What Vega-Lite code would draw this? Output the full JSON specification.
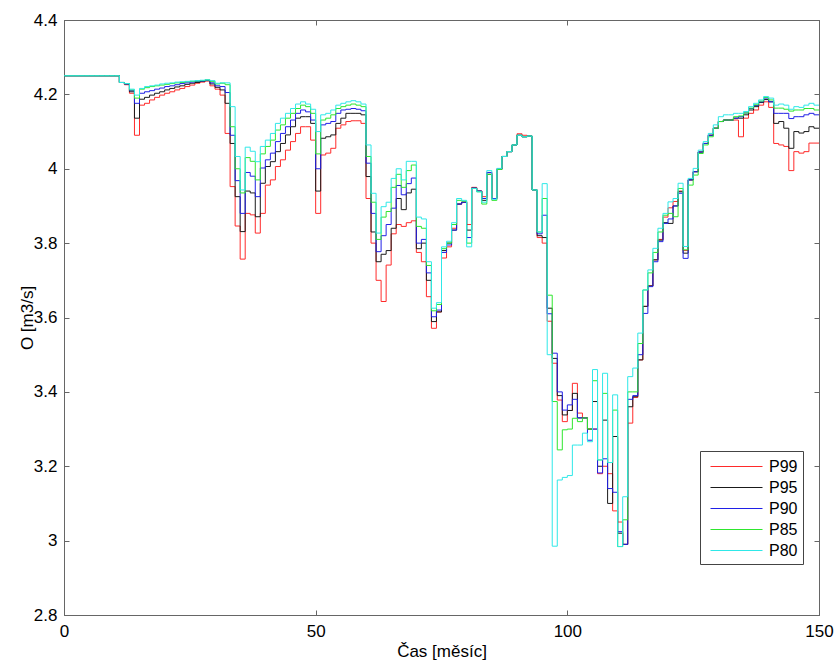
{
"$schema": "https://vega.github.io/schema/vega-lite/v6.json",
"width": 755, "height": 595,
"autosize": {"type": "none"},
"padding": {"left": 64, "top": 20, "right": 18, "bottom": 48},
"background": "white",
"config": {"view": {"stroke": "#666", "strokeWidth": 1}, "font": "Liberation Sans"},
"data": {"values": [
{"m":0,"P99":4.25,"P95":4.25,"P90":4.25,"P85":4.25,"P80":4.25},
{"m":1,"P99":4.25,"P95":4.25,"P90":4.25,"P85":4.25,"P80":4.25},
{"m":2,"P99":4.25,"P95":4.25,"P90":4.25,"P85":4.25,"P80":4.25},
{"m":3,"P99":4.25,"P95":4.25,"P90":4.25,"P85":4.25,"P80":4.25},
{"m":4,"P99":4.25,"P95":4.25,"P90":4.25,"P85":4.25,"P80":4.25},
{"m":5,"P99":4.25,"P95":4.25,"P90":4.25,"P85":4.25,"P80":4.25},
{"m":6,"P99":4.25,"P95":4.25,"P90":4.25,"P85":4.25,"P80":4.25},
{"m":7,"P99":4.25,"P95":4.25,"P90":4.25,"P85":4.25,"P80":4.25},
{"m":8,"P99":4.25,"P95":4.25,"P90":4.25,"P85":4.25,"P80":4.25},
{"m":9,"P99":4.25,"P95":4.25,"P90":4.25,"P85":4.25,"P80":4.25},
{"m":10,"P99":4.25,"P95":4.25,"P90":4.25,"P85":4.25,"P80":4.25},
{"m":11,"P99":4.232,"P95":4.232,"P90":4.232,"P85":4.232,"P80":4.232},
{"m":12,"P99":4.226,"P95":4.228,"P90":4.228,"P85":4.229,"P80":4.229},
{"m":13,"P99":4.203,"P95":4.207,"P90":4.21,"P85":4.212,"P80":4.214},
{"m":14,"P99":4.09,"P95":4.136,"P90":4.176,"P85":4.19,"P80":4.198},
{"m":15,"P99":4.171,"P95":4.187,"P90":4.203,"P85":4.214,"P80":4.216},
{"m":16,"P99":4.176,"P95":4.192,"P90":4.207,"P85":4.218,"P80":4.221},
{"m":17,"P99":4.185,"P95":4.198,"P90":4.21,"P85":4.221,"P80":4.223},
{"m":18,"P99":4.192,"P95":4.203,"P90":4.214,"P85":4.223,"P80":4.225},
{"m":19,"P99":4.198,"P95":4.207,"P90":4.217,"P85":4.225,"P80":4.228},
{"m":20,"P99":4.203,"P95":4.212,"P90":4.221,"P85":4.227,"P80":4.23},
{"m":21,"P99":4.207,"P95":4.216,"P90":4.223,"P85":4.229,"P80":4.231},
{"m":22,"P99":4.212,"P95":4.22,"P90":4.226,"P85":4.231,"P80":4.233},
{"m":23,"P99":4.216,"P95":4.223,"P90":4.229,"P85":4.232,"P80":4.234},
{"m":24,"P99":4.221,"P95":4.227,"P90":4.231,"P85":4.234,"P80":4.235},
{"m":25,"P99":4.225,"P95":4.23,"P90":4.233,"P85":4.235,"P80":4.236},
{"m":26,"P99":4.23,"P95":4.232,"P90":4.235,"P85":4.236,"P80":4.237},
{"m":27,"P99":4.233,"P95":4.235,"P90":4.236,"P85":4.237,"P80":4.238},
{"m":28,"P99":4.236,"P95":4.237,"P90":4.238,"P85":4.239,"P80":4.239},
{"m":29,"P99":4.223,"P95":4.228,"P90":4.231,"P85":4.235,"P80":4.237},
{"m":30,"P99":4.214,"P95":4.219,"P90":4.223,"P85":4.228,"P80":4.23},
{"m":31,"P99":4.198,"P95":4.212,"P90":4.221,"P85":4.23,"P80":4.231},
{"m":32,"P99":4.095,"P95":4.176,"P90":4.205,"P85":4.226,"P80":4.231},
{"m":33,"P99":3.952,"P95":4.068,"P90":4.09,"P85":4.113,"P80":4.167},
{"m":34,"P99":3.846,"P95":3.925,"P90":3.968,"P85":4.0,"P80":4.033},
{"m":35,"P99":3.757,"P95":3.831,"P90":3.88,"P85":3.935,"P80":3.943},
{"m":36,"P99":3.88,"P95":3.94,"P90":3.99,"P85":4.03,"P80":4.058},
{"m":37,"P99":3.876,"P95":3.935,"P90":3.98,"P85":4.02,"P80":4.047},
{"m":38,"P99":3.827,"P95":3.871,"P90":3.925,"P85":3.97,"P80":4.019},
{"m":39,"P99":3.88,"P95":3.961,"P90":4.002,"P85":4.04,"P80":4.06},
{"m":40,"P99":3.956,"P95":4.006,"P90":4.024,"P85":4.06,"P80":4.077},
{"m":41,"P99":3.97,"P95":4.019,"P90":4.042,"P85":4.077,"P80":4.095},
{"m":42,"P99":4.006,"P95":4.046,"P90":4.073,"P85":4.104,"P80":4.122},
{"m":43,"P99":4.024,"P95":4.068,"P90":4.095,"P85":4.118,"P80":4.136},
{"m":44,"P99":4.05,"P95":4.091,"P90":4.113,"P85":4.136,"P80":4.149},
{"m":45,"P99":4.073,"P95":4.113,"P90":4.131,"P85":4.149,"P80":4.162},
{"m":46,"P99":4.095,"P95":4.136,"P90":4.149,"P85":4.162,"P80":4.174},
{"m":47,"P99":4.113,"P95":4.14,"P90":4.158,"P85":4.171,"P80":4.18},
{"m":48,"P99":4.113,"P95":4.14,"P90":4.153,"P85":4.167,"P80":4.174},
{"m":49,"P99":4.077,"P95":4.122,"P90":4.131,"P85":4.149,"P80":4.16},
{"m":50,"P99":3.88,"P95":3.94,"P90":4.0,"P85":4.04,"P80":4.1},
{"m":51,"P99":4.037,"P95":4.082,"P90":4.118,"P85":4.131,"P80":4.145},
{"m":52,"P99":4.042,"P95":4.086,"P90":4.122,"P85":4.136,"P80":4.149},
{"m":53,"P99":4.055,"P95":4.091,"P90":4.127,"P85":4.145,"P80":4.158},
{"m":54,"P99":4.109,"P95":4.122,"P90":4.149,"P85":4.162,"P80":4.171},
{"m":55,"P99":4.118,"P95":4.136,"P90":4.158,"P85":4.167,"P80":4.176},
{"m":56,"P99":4.127,"P95":4.149,"P90":4.16,"P85":4.171,"P80":4.18},
{"m":57,"P99":4.129,"P95":4.149,"P90":4.162,"P85":4.174,"P80":4.183},
{"m":58,"P99":4.129,"P95":4.149,"P90":4.16,"P85":4.171,"P80":4.18},
{"m":59,"P99":4.122,"P95":4.145,"P90":4.156,"P85":4.167,"P80":4.174},
{"m":60,"P99":3.92,"P95":3.979,"P90":4.015,"P85":4.033,"P80":4.064},
{"m":61,"P99":3.8,"P95":3.83,"P90":3.88,"P85":3.91,"P80":3.934},
{"m":62,"P99":3.7,"P95":3.75,"P90":3.777,"P85":3.81,"P80":3.827},
{"m":63,"P99":3.643,"P95":3.77,"P90":3.82,"P85":3.87,"P80":3.898},
{"m":64,"P99":3.741,"P95":3.78,"P90":3.85,"P85":3.885,"P80":3.91},
{"m":65,"P99":3.825,"P95":3.84,"P90":3.894,"P85":3.95,"P80":3.974},
{"m":66,"P99":3.85,"P95":3.92,"P90":3.955,"P85":3.985,"P80":4.0},
{"m":67,"P99":3.845,"P95":3.89,"P90":3.93,"P85":3.95,"P80":3.97},
{"m":68,"P99":3.855,"P95":3.935,"P90":3.96,"P85":3.995,"P80":4.02},
{"m":69,"P99":3.86,"P95":3.945,"P90":3.975,"P85":4.01,"P80":4.02},
{"m":70,"P99":3.775,"P95":3.785,"P90":3.8,"P85":3.845,"P80":3.87},
{"m":71,"P99":3.75,"P95":3.8,"P90":3.81,"P85":3.84,"P80":3.865},
{"m":72,"P99":3.656,"P95":3.7,"P90":3.72,"P85":3.74,"P80":3.75},
{"m":73,"P99":3.571,"P95":3.589,"P90":3.602,"P85":3.618,"P80":3.625},
{"m":74,"P99":3.615,"P95":3.615,"P90":3.62,"P85":3.635,"P80":3.64},
{"m":75,"P99":3.76,"P95":3.78,"P90":3.775,"P85":3.785,"P80":3.79},
{"m":76,"P99":3.79,"P95":3.8,"P90":3.795,"P85":3.8,"P80":3.805},
{"m":77,"P99":3.84,"P95":3.835,"P90":3.835,"P85":3.85,"P80":3.855},
{"m":78,"P99":3.905,"P95":3.905,"P90":3.905,"P85":3.915,"P80":3.92},
{"m":79,"P99":3.91,"P95":3.91,"P90":3.91,"P85":3.913,"P80":3.915},
{"m":80,"P99":3.85,"P95":3.835,"P90":3.815,"P85":3.8,"P80":3.79},
{"m":81,"P99":3.95,"P95":3.948,"P90":3.948,"P85":3.947,"P80":3.947},
{"m":82,"P99":3.94,"P95":3.94,"P90":3.94,"P85":3.938,"P80":3.938},
{"m":83,"P99":3.925,"P95":3.915,"P90":3.92,"P85":3.905,"P80":3.91},
{"m":84,"P99":3.99,"P95":3.985,"P90":3.99,"P85":3.985,"P80":3.995},
{"m":85,"P99":3.92,"P95":3.92,"P90":3.92,"P85":3.915,"P80":3.918},
{"m":86,"P99":4.0,"P95":3.998,"P90":3.999,"P85":3.998,"P80":4.001},
{"m":87,"P99":4.033,"P95":4.033,"P90":4.033,"P85":4.033,"P80":4.033},
{"m":88,"P99":4.046,"P95":4.046,"P90":4.046,"P85":4.046,"P80":4.046},
{"m":89,"P99":4.064,"P95":4.064,"P90":4.064,"P85":4.064,"P80":4.064},
{"m":90,"P99":4.094,"P95":4.09,"P90":4.09,"P85":4.09,"P80":4.09},
{"m":91,"P99":4.09,"P95":4.086,"P90":4.086,"P85":4.086,"P80":4.086},
{"m":92,"P99":4.088,"P95":4.088,"P90":4.088,"P85":4.088,"P80":4.088},
{"m":93,"P99":3.943,"P95":3.943,"P90":3.943,"P85":3.943,"P80":3.943},
{"m":94,"P99":3.815,"P95":3.82,"P90":3.825,"P85":3.83,"P80":3.83},
{"m":95,"P99":3.8,"P95":3.815,"P90":3.875,"P85":3.92,"P80":3.96},
{"m":96,"P99":3.59,"P95":3.625,"P90":3.61,"P85":3.66,"P80":3.5},
{"m":97,"P99":3.477,"P95":3.49,"P90":3.504,"P85":3.374,"P80":2.985},
{"m":98,"P99":3.378,"P95":3.39,"P90":3.4,"P85":3.244,"P80":3.163},
{"m":99,"P99":3.32,"P95":3.338,"P90":3.351,"P85":3.298,"P80":3.17},
{"m":100,"P99":3.35,"P95":3.35,"P90":3.365,"P85":3.3,"P80":3.175},
{"m":101,"P99":3.423,"P95":3.396,"P90":3.38,"P85":3.329,"P80":3.257},
{"m":102,"P99":3.343,"P95":3.33,"P90":3.33,"P85":3.32,"P80":3.257},
{"m":103,"P99":3.33,"P95":3.33,"P90":3.33,"P85":3.33,"P80":3.289},
{"m":104,"P99":3.3,"P95":3.3,"P90":3.27,"P85":3.3,"P80":3.266},
{"m":105,"P99":3.3,"P95":3.374,"P90":3.3,"P85":3.43,"P80":3.46},
{"m":106,"P99":3.18,"P95":3.2,"P90":3.182,"P85":3.217,"P80":3.217},
{"m":107,"P99":3.2,"P95":3.324,"P90":3.22,"P85":3.396,"P80":3.45},
{"m":108,"P99":3.18,"P95":3.1,"P90":3.14,"P85":3.21,"P80":3.21},
{"m":109,"P99":3.08,"P95":3.28,"P90":3.13,"P85":3.351,"P80":3.392},
{"m":110,"P99":3.05,"P95":3.02,"P90":3.024,"P85":2.984,"P80":2.984},
{"m":111,"P99":2.99,"P95":2.99,"P90":2.99,"P85":3.056,"P80":3.118},
{"m":112,"P99":3.316,"P95":3.36,"P90":3.38,"P85":3.4,"P80":3.441},
{"m":113,"P99":3.385,"P95":3.387,"P90":3.39,"P85":3.4,"P80":3.464},
{"m":114,"P99":3.486,"P95":3.486,"P90":3.5,"P85":3.53,"P80":3.558},
{"m":115,"P99":3.63,"P95":3.63,"P90":3.611,"P85":3.674,"P80":3.674},
{"m":116,"P99":3.685,"P95":3.685,"P90":3.683,"P85":3.72,"P80":3.728},
{"m":117,"P99":3.755,"P95":3.755,"P90":3.75,"P85":3.775,"P80":3.786},
{"m":118,"P99":3.81,"P95":3.808,"P90":3.804,"P85":3.83,"P80":3.84},
{"m":119,"P99":3.87,"P95":3.855,"P90":3.853,"P85":3.875,"P80":3.88},
{"m":120,"P99":3.895,"P95":3.853,"P90":3.865,"P85":3.88,"P80":3.911},
{"m":121,"P99":3.912,"P95":3.9,"P90":3.9,"P85":3.871,"P80":3.92},
{"m":122,"P99":3.94,"P95":3.938,"P90":3.934,"P85":3.947,"P80":3.961},
{"m":123,"P99":3.78,"P95":3.773,"P90":3.759,"P85":3.782,"P80":3.791},
{"m":124,"P99":3.97,"P95":3.97,"P90":3.97,"P85":3.956,"P80":3.974},
{"m":125,"P99":3.992,"P95":3.992,"P90":3.992,"P85":3.983,"P80":4.001},
{"m":126,"P99":4.045,"P95":4.045,"P90":4.045,"P85":4.041,"P80":4.05},
{"m":127,"P99":4.068,"P95":4.068,"P90":4.068,"P85":4.064,"P80":4.073},
{"m":128,"P99":4.09,"P95":4.09,"P90":4.09,"P85":4.086,"P80":4.095},
{"m":129,"P99":4.109,"P95":4.109,"P90":4.109,"P85":4.109,"P80":4.118},
{"m":130,"P99":4.127,"P95":4.127,"P90":4.127,"P85":4.127,"P80":4.14},
{"m":131,"P99":4.131,"P95":4.131,"P90":4.131,"P85":4.131,"P80":4.145},
{"m":132,"P99":4.131,"P95":4.131,"P90":4.131,"P85":4.131,"P80":4.145},
{"m":133,"P99":4.131,"P95":4.136,"P90":4.136,"P85":4.14,"P80":4.149},
{"m":134,"P99":4.086,"P95":4.136,"P90":4.14,"P85":4.142,"P80":4.149},
{"m":135,"P99":4.136,"P95":4.145,"P90":4.15,"P85":4.15,"P80":4.154},
{"m":136,"P99":4.149,"P95":4.158,"P90":4.162,"P85":4.163,"P80":4.167},
{"m":137,"P99":4.158,"P95":4.167,"P90":4.17,"P85":4.172,"P80":4.176},
{"m":138,"P99":4.171,"P95":4.178,"P90":4.18,"P85":4.182,"P80":4.185},
{"m":139,"P99":4.18,"P95":4.186,"P90":4.19,"P85":4.192,"P80":4.194},
{"m":140,"P99":4.165,"P95":4.18,"P90":4.18,"P85":4.185,"P80":4.19},
{"m":141,"P99":4.068,"P95":4.122,"P90":4.149,"P85":4.163,"P80":4.171},
{"m":142,"P99":4.064,"P95":4.127,"P90":4.149,"P85":4.163,"P80":4.174},
{"m":143,"P99":4.06,"P95":4.109,"P90":4.149,"P85":4.16,"P80":4.171},
{"m":144,"P99":3.995,"P95":4.055,"P90":4.135,"P85":4.155,"P80":4.16},
{"m":145,"P99":4.046,"P95":4.1,"P90":4.14,"P85":4.158,"P80":4.167},
{"m":146,"P99":4.042,"P95":4.096,"P90":4.14,"P85":4.158,"P80":4.165},
{"m":147,"P99":4.046,"P95":4.1,"P90":4.145,"P85":4.162,"P80":4.171},
{"m":148,"P99":4.069,"P95":4.113,"P90":4.149,"P85":4.162,"P80":4.176},
{"m":149,"P99":4.069,"P95":4.109,"P90":4.145,"P85":4.158,"P80":4.171},
{"m":150,"P99":4.069,"P95":4.109,"P90":4.145,"P85":4.158,"P80":4.171}
]},
"transform": [{"fold": ["P99", "P95", "P90", "P85", "P80"], "as": ["series", "value"]}],
"layer": [
 {
  "mark": {"type": "line", "interpolate": "step-after", "strokeWidth": 1},
  "encoding": {
   "x": {"field": "m", "type": "quantitative", "title": "Čas [měsíc]",
     "scale": {"domain": [0, 150], "nice": false, "zero": false},
     "axis": {"values": [0, 50, 100, 150], "grid": false, "tickSize": -5, "labelPadding": 13, "labelFontSize": 17, "titleFontSize": 17, "titleFontWeight": "normal", "domainColor": "#666", "tickColor": "#666", "labelColor": "#000", "titleColor": "#000", "labelFont": "Liberation Sans", "titleFont": "Liberation Sans", "titlePadding": 4, "labelFlush": false}},
   "y": {"field": "value", "type": "quantitative", "title": "O [m3/s]",
     "scale": {"domain": [2.8, 4.4], "nice": false, "zero": false},
     "axis": {"values": [2.8, 3.0, 3.2, 3.4, 3.6, 3.8, 4.0, 4.2, 4.4], "format": "~g", "grid": false, "tickSize": -5, "labelPadding": 12, "labelFontSize": 17, "titleFontSize": 17, "titleFontWeight": "normal", "domainColor": "#666", "tickColor": "#666", "labelColor": "#000", "titleColor": "#000", "labelFont": "Liberation Sans", "titleFont": "Liberation Sans", "titlePadding": -3, "labelFlush": false}},
   "color": {"field": "series", "type": "nominal",
     "scale": {"domain": ["P99", "P95", "P90", "P85", "P80"], "range": ["#ff2a2a", "#1a1a1a", "#2020e6", "#2ee62e", "#2ee8e8"]},
     "legend": {"orient": "none", "legendX": 636, "legendY": 431, "title": null, "symbolType": "M-2.6,0H2.6", "symbolSize": 400, "symbolOffset": 21, "symbolStrokeWidth": 1, "labelFontSize": 16, "labelFont": "Liberation Sans", "labelColor": "#000", "labelOffset": 22, "labelExpr": "datum.label + '\u00a0\u00a0\u00a0\u00a0'", "strokeColor": "#444", "fillColor": "white", "padding": 5, "rowPadding": 2}}
  }
 },
 {
  "mark": {"type": "line", "strokeOpacity": 0},
  "encoding": {
   "x": {"field": "m", "type": "quantitative", "scale": {"domain": [0, 150], "nice": false, "zero": false},
     "axis": {"orient": "top", "values": [0, 50, 100, 150], "labels": false, "title": null, "grid": false, "tickSize": -5, "domainColor": "#666", "tickColor": "#666"}},
   "y": {"field": "value", "type": "quantitative", "scale": {"domain": [2.8, 4.4], "nice": false, "zero": false},
     "axis": {"orient": "right", "values": [2.8, 3.0, 3.2, 3.4, 3.6, 3.8, 4.0, 4.2, 4.4], "labels": false, "title": null, "grid": false, "tickSize": -5, "domainColor": "#666", "tickColor": "#666"}}
  }
 }
],
"resolve": {"scale": {"x": "independent", "y": "independent"}, "axis": {"x": "independent", "y": "independent"}}
}
